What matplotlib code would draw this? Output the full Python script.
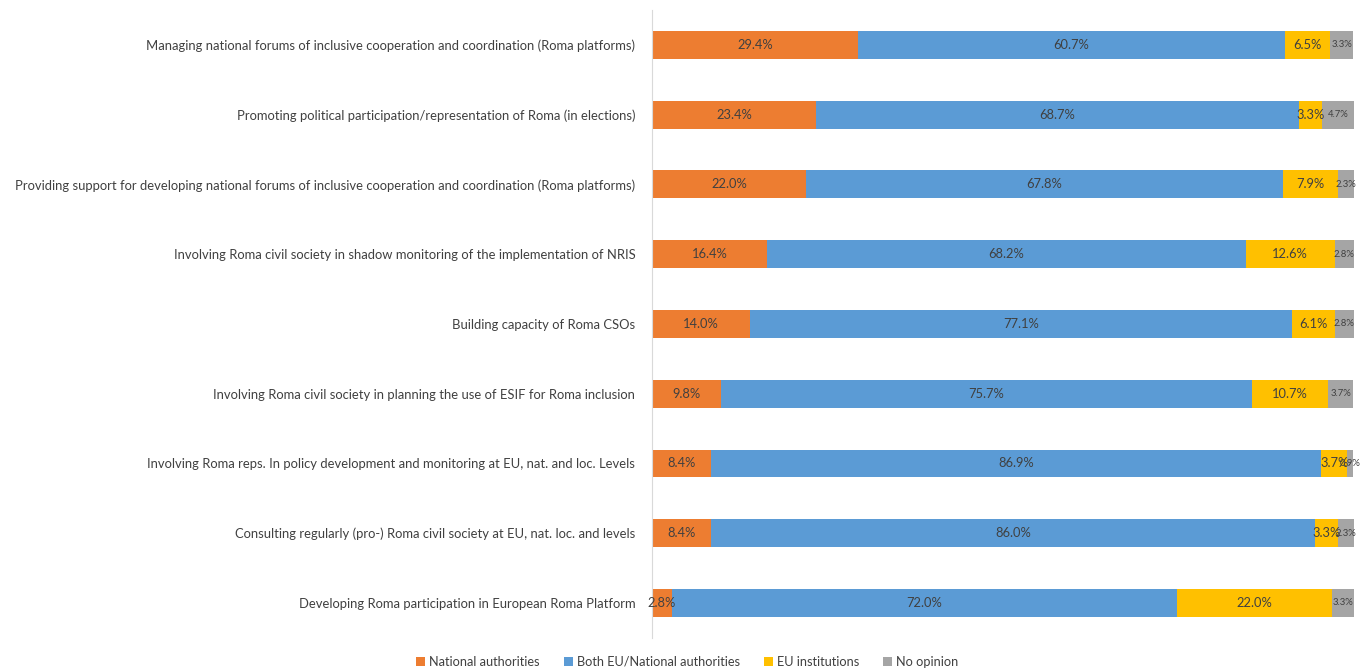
import matplotlib.pyplot as plt
import numpy as np

plt.rcParams['font.family'] = ['Lato', 'DejaVu Sans']

categories = [
    "Managing national forums of inclusive cooperation and coordination (Roma platforms)",
    "Promoting political participation/representation of Roma (in elections)",
    "Providing support for developing national forums of inclusive cooperation and coordination (Roma platforms)",
    "Involving Roma civil society in shadow monitoring of the implementation of NRIS",
    "Building capacity of Roma CSOs",
    "Involving Roma civil society in planning the use of ESIF for Roma inclusion",
    "Involving Roma reps. In policy development and monitoring at EU, nat. and loc. Levels",
    "Consulting regularly (pro-) Roma civil society at EU, nat. loc. and levels",
    "Developing Roma participation in European Roma Platform",
]
national = [29.4, 23.4, 22.0, 16.4, 14.0, 9.8, 8.4, 8.4, 2.8]
both = [60.7, 68.7, 67.8, 68.2, 77.1, 75.7, 86.9, 86.0, 72.0]
eu = [6.5, 3.3, 7.9, 12.6, 6.1, 10.7, 3.7, 3.3, 22.0]
no_opinion = [3.3, 4.7, 2.3, 2.8, 2.8, 3.7, 0.9, 2.3, 3.3]

series = [
    ("National authorities", national, "#ED7D31", 9.3),
    ("Both EU/National authorities", both, "#5B9BD5", 9.3),
    ("EU institutions", eu, "#FFC000", 9.3),
    ("No opinion", no_opinion, "#A5A5A5", 6.8),
]

fig = plt.figure(figsize=(13.61, 6.70), dpi=100)
ax = fig.add_axes([0.479, 0.048, 0.516, 0.937])

y = np.arange(len(categories))
left = np.zeros(len(categories))
for name, vals, color, fs in series:
    vals = np.array(vals)
    ax.barh(y, vals, left=left, height=0.4, color=color, label=name)
    for yi, l, v in zip(y, left, vals):
        ax.text(l + v / 2, yi, f"{v:.1f}%", ha="center", va="center",
                fontsize=fs, color="#404040")
    left += vals

ax.set_xlim(0, 100)
ax.set_ylim(8.5, -0.5)
ax.set_yticks(y)
ax.set_yticklabels(categories, fontsize=9.4, color="#404040")
ax.tick_params(axis="y", length=0, pad=12)
ax.set_xticks([])
for s in ["top", "right", "bottom"]:
    ax.spines[s].set_visible(False)
ax.spines["left"].set_color("#D9D9D9")

fig.legend(loc="lower center", bbox_to_anchor=(0.505, -0.014), ncol=4,
           frameon=False, fontsize=9.2, handlelength=0.7, handleheight=0.7,
           columnspacing=1.9, handletextpad=0.3, labelcolor="#404040")

fig.savefig("out.png", dpi=100)
